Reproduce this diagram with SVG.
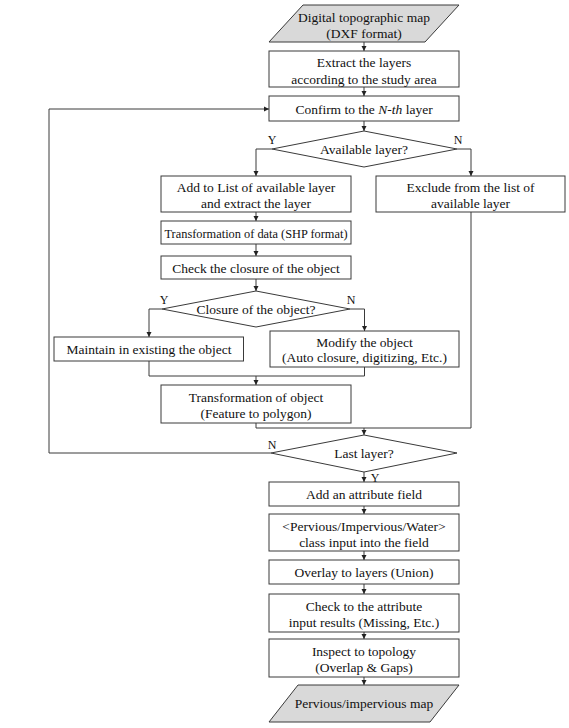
<svg xmlns="http://www.w3.org/2000/svg" width="569" height="728" viewBox="0 0 569 728">
<style>
.bg{fill:#ffffff}
.box{fill:#ffffff;stroke:#3a3a3a;stroke-width:1}
.io{fill:#d9d9d9;stroke:#3a3a3a;stroke-width:1}
.ln{fill:none;stroke:#3a3a3a;stroke-width:1}
text{font-family:"Liberation Serif","Times New Roman",serif;font-size:13.5px;fill:#111;text-anchor:middle}
.lb{font-size:12px}
</style>
<defs>
<marker id="ah" markerUnits="userSpaceOnUse" markerWidth="6" markerHeight="6" refX="5" refY="3" orient="auto">
<path d="M0,0.5 L5,3 L0,5.5 Z" fill="#222"/>
</marker>
</defs>
<rect class="bg" x="0" y="0" width="569" height="728"/>
<g id="connectors">
<line class="ln" x1="364" y1="42" x2="364" y2="51" marker-end="url(#ah)"/>
<line class="ln" x1="364" y1="87" x2="364" y2="96" marker-end="url(#ah)"/>
<line class="ln" x1="364" y1="121" x2="364" y2="131" marker-end="url(#ah)"/>
<polyline class="ln" points="272,149 256,149 256,176" marker-end="url(#ah)"/>
<polyline class="ln" points="457,149 471,149 471,176" marker-end="url(#ah)"/>
<line class="ln" x1="256" y1="212" x2="256" y2="221" marker-end="url(#ah)"/>
<line class="ln" x1="256" y1="244" x2="256" y2="256" marker-end="url(#ah)"/>
<line class="ln" x1="256" y1="279" x2="256" y2="291" marker-end="url(#ah)"/>
<polyline class="ln" points="162,309 149,309 149,337" marker-end="url(#ah)"/>
<polyline class="ln" points="350,309 364.5,309 364.5,331" marker-end="url(#ah)"/>
<polyline class="ln" points="149,361 149,376 364.5,376 364.5,367"/>
<line class="ln" x1="256" y1="376" x2="256" y2="385" marker-end="url(#ah)"/>
<polyline class="ln" points="256,423 256,428 471,428 471,212"/>
<line class="ln" x1="364" y1="428" x2="364" y2="435" marker-end="url(#ah)"/>
<polyline class="ln" points="271,453 49,453 49,109 269,109" marker-end="url(#ah)"/>
<line class="ln" x1="364" y1="472" x2="364" y2="482" marker-end="url(#ah)"/>
<line class="ln" x1="364" y1="506" x2="364" y2="514" marker-end="url(#ah)"/>
<line class="ln" x1="364" y1="551" x2="364" y2="560" marker-end="url(#ah)"/>
<line class="ln" x1="364" y1="584" x2="364" y2="594" marker-end="url(#ah)"/>
<line class="ln" x1="364" y1="632" x2="364" y2="639" marker-end="url(#ah)"/>
<line class="ln" x1="364" y1="677" x2="364" y2="685" marker-end="url(#ah)"/>
<text class="lb" x="272" y="144">Y</text>
<text class="lb" x="458" y="144">N</text>
<text class="lb" x="164" y="304">Y</text>
<text class="lb" x="351" y="304">N</text>
<text class="lb" x="272" y="449">N</text>
<text class="lb" x="375" y="482">Y</text>
</g>
<g id="start">
<polygon class="io" points="303,5 459,5 425,42 269,42"/>
<text x="364" y="22">Digital topographic map</text>
<text x="364" y="38">(DXF format)</text>
</g>
<g id="extract">
<rect class="box" x="269" y="51" width="190" height="36"/>
<text x="364" y="67">Extract the layers</text>
<text x="364" y="84">according to the study area</text>
</g>
<g id="confirm">
<rect class="box" x="269" y="96" width="190" height="25"/>
<text x="364" y="113.5">Confirm to the <tspan font-style="italic">N-th</tspan> layer</text>
</g>
<g id="available">
<polygon class="box" points="364,131 457,149 364,167 272,149"/>
<text x="364" y="153.5">Available layer?</text>
</g>
<g id="add-list">
<rect class="box" x="161" y="176" width="190" height="36"/>
<text x="256" y="191.5">Add to List of available layer</text>
<text x="256" y="207.5">and extract the layer</text>
</g>
<g id="exclude">
<rect class="box" x="376" y="176" width="189" height="36"/>
<text x="470.5" y="191.5">Exclude from the list of</text>
<text x="470.5" y="207.5">available layer</text>
</g>
<g id="transform-data">
<rect class="box" x="161" y="221" width="190" height="23"/>
<text x="256" y="237.5" textLength="183" lengthAdjust="spacingAndGlyphs">Transformation of data (SHP format)</text>
</g>
<g id="check-closure">
<rect class="box" x="161" y="256" width="190" height="23"/>
<text x="256" y="272.5">Check the closure of the object</text>
</g>
<g id="closure">
<polygon class="box" points="256,291 350,309 256,327 162,309"/>
<text x="256" y="313.5">Closure of the object?</text>
</g>
<g id="maintain">
<rect class="box" x="54" y="337" width="189.5" height="24"/>
<text x="149" y="354">Maintain in existing the object</text>
</g>
<g id="modify">
<rect class="box" x="270" y="331" width="189" height="36"/>
<text x="364.5" y="346.5">Modify the object</text>
<text x="364.5" y="362">(Auto closure, digitizing, Etc.)</text>
</g>
<g id="transform-object">
<rect class="box" x="161" y="385" width="190" height="38"/>
<text x="256" y="401.5">Transformation of object</text>
<text x="256" y="417.5">(Feature to polygon)</text>
</g>
<g id="last">
<polygon class="box" points="364,435 457,453 364,472 271,453"/>
<text x="364" y="458">Last layer?</text>
</g>
<g id="add-field">
<rect class="box" x="269" y="482" width="190" height="24"/>
<text x="364" y="499">Add an attribute field</text>
</g>
<g id="class-input">
<rect class="box" x="269" y="514" width="190" height="37"/>
<text x="364" y="530.5">&lt;Pervious/Impervious/Water&gt;</text>
<text x="364" y="546.5">class input into the field</text>
</g>
<g id="overlay">
<rect class="box" x="269" y="560" width="190" height="24"/>
<text x="364" y="577">Overlay to layers (Union)</text>
</g>
<g id="check-attr">
<rect class="box" x="269" y="594" width="190" height="38"/>
<text x="364" y="610.5">Check to the attribute</text>
<text x="364" y="627">input results (Missing, Etc.)</text>
</g>
<g id="inspect">
<rect class="box" x="269" y="639" width="190" height="38"/>
<text x="364" y="655.5">Inspect to topology</text>
<text x="364" y="672">(Overlap &amp; Gaps)</text>
</g>
<g id="end">
<polygon class="io" points="298,685 459,685 430,722 269,722"/>
<text x="364" y="708">Pervious/impervious map</text>
</g>
</svg>
